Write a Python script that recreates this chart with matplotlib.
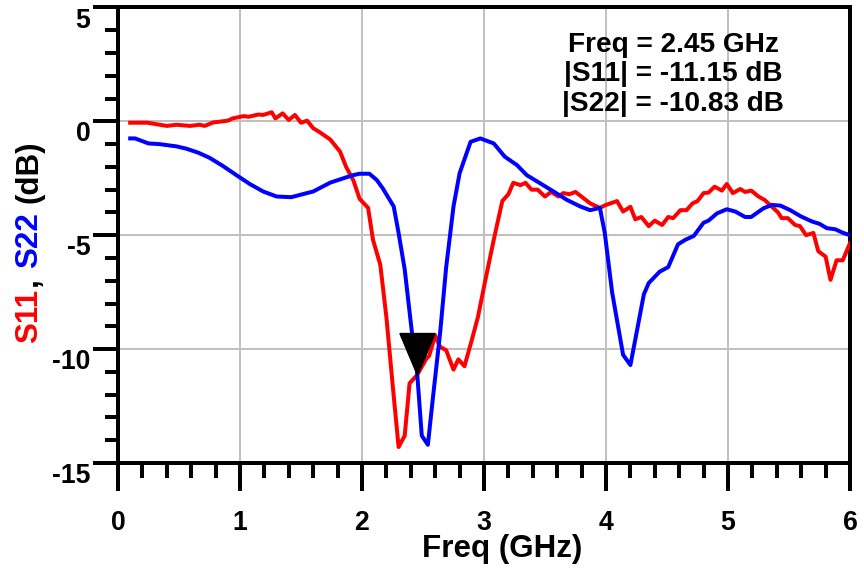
import matplotlib
matplotlib.use("Agg")
import matplotlib.pyplot as plt
import numpy as np
from matplotlib.ticker import MultipleLocator

plt.rcParams['font.family'] = ['Liberation Sans', 'DejaVu Sans']
plt.rcParams['font.weight'] = 'bold'
plt.rcParams['axes.unicode_minus'] = False

# S11 trace (GHz, dB)
s11_freq = [0.1, 0.24, 0.4, 0.48, 0.59, 0.67, 0.71, 0.78, 0.9, 0.94, 1.03, 1.07, 1.15, 1.19,
            1.26, 1.29, 1.35, 1.40, 1.45, 1.50, 1.55, 1.60, 1.66, 1.74, 1.82, 1.87, 1.93, 1.98,
            2.05, 2.09, 2.15, 2.20, 2.25, 2.30, 2.35, 2.39, 2.45, 2.53, 2.55, 2.60, 2.64, 2.69,
            2.75, 2.79, 2.84, 2.90, 2.95, 3.01, 3.08, 3.15, 3.20, 3.24, 3.30, 3.34, 3.39, 3.44,
            3.50, 3.55, 3.61, 3.65, 3.70, 3.75, 3.81, 3.87, 3.95, 4.00, 4.09, 4.14, 4.20, 4.24,
            4.29, 4.35, 4.40, 4.46, 4.51, 4.55, 4.61, 4.66, 4.71, 4.75, 4.80, 4.84, 4.89, 4.95,
            4.99, 5.04, 5.10, 5.14, 5.19, 5.25, 5.30, 5.36, 5.41, 5.44, 5.49, 5.55, 5.59, 5.64,
            5.70, 5.74, 5.80, 5.84, 5.89, 5.94, 6.00]
s11_db = [-0.06, -0.06, -0.2, -0.15, -0.2, -0.15, -0.2, -0.05, 0.03, 0.13, 0.23, 0.2, 0.3, 0.28,
          0.4, 0.13, 0.35, 0.06, 0.28, -0.06, 0.03, -0.3, -0.5, -0.8, -1.33, -2.0, -2.6, -3.4,
          -3.8, -5.2, -6.3, -8.6, -11.5, -14.3, -13.8, -11.5, -11.15, -10.4, -10.3, -9.4, -9.9, -10.05,
          -10.9, -10.45, -10.75, -9.6, -8.6, -7.0, -5.2, -3.5, -3.2, -2.7, -2.8, -2.7, -3.0, -3.0,
          -3.3, -3.1, -3.3, -3.15, -3.2, -3.1, -3.35, -3.6, -3.8, -3.67, -3.5, -3.96, -3.75, -4.3,
          -4.2, -4.6, -4.36, -4.55, -4.2, -4.25, -3.9, -3.9, -3.6, -3.5, -3.15, -3.13, -2.87, -3.04,
          -2.75, -3.15, -2.97, -3.1, -3.04, -3.3, -3.45, -3.75, -4.0, -4.25, -4.25, -4.55, -4.6, -5.0,
          -4.9, -5.7, -5.94, -6.96, -6.1, -6.1, -5.35]

# S22 trace (GHz, dB)
s22_freq = [0.1, 0.14, 0.25, 0.34, 0.48, 0.56, 0.66, 0.75, 0.86, 0.97, 1.08, 1.19, 1.30, 1.42,
            1.52, 1.60, 1.74, 1.87, 1.93, 1.98, 2.06, 2.12, 2.17, 2.26, 2.30, 2.35, 2.41, 2.45,
            2.49, 2.54, 2.58, 2.64, 2.69, 2.75, 2.80, 2.89, 2.97, 3.08, 3.17, 3.27, 3.35, 3.46,
            3.57, 3.68, 3.79, 3.87, 3.95, 3.99, 4.05, 4.14, 4.20, 4.25, 4.31, 4.35, 4.44, 4.51,
            4.59, 4.65, 4.72, 4.80, 4.84, 4.91, 4.99, 5.06, 5.14, 5.19, 5.29, 5.36, 5.43, 5.51,
            5.60, 5.69, 5.75, 5.81, 5.88, 5.94, 6.00]
s22_db = [-0.75, -0.75, -0.97, -1.0, -1.1, -1.2, -1.38, -1.6, -1.96, -2.36, -2.75, -3.08, -3.3, -3.33,
          -3.19, -3.08, -2.69, -2.46, -2.36, -2.3, -2.3, -2.57, -2.94, -3.74, -4.9, -6.5, -9.3, -10.9,
          -13.8, -14.2, -12.2, -9.3, -6.4, -3.74, -2.28, -0.9, -0.75, -0.97, -1.55, -1.92, -2.36, -2.72,
          -3.08, -3.45, -3.74, -3.9, -3.8, -4.9, -7.5, -10.25, -10.7, -9.3, -7.6, -7.1, -6.6, -6.4,
          -5.4, -5.2, -5.03, -4.45, -4.36, -4.04, -3.86, -3.96, -4.2, -4.2, -3.82, -3.67, -3.7, -3.9,
          -4.18, -4.4, -4.5, -4.69, -4.74, -4.89, -5.0]

marker_freq = 2.45
marker_s11 = -11.15
marker_s22 = -10.83

fig, ax = plt.subplots(figsize=(9, 5.99), dpi=96)
fig.subplots_adjust(left=118/864, right=850/864, top=1-7.5/575, bottom=1-463/575)

ax.plot(s11_freq, s11_db, color='#ff0000', linewidth=3, zorder=3)
ax.plot(s22_freq, s22_db, color='#0000ff', linewidth=3, zorder=3)

# marker: triangle with its tip on the S11 point
tri = [(-0.42, 1.0), (0.42, 1.0), (0.0, 0.0), (-0.42, 1.0)]
ax.plot([marker_freq], [marker_s11], linestyle='none', marker=tri, markersize=63,
        color='black', zorder=5)

ax.set_xlim(0, 6)
ax.set_ylim(-15, 5)
ax.xaxis.set_major_locator(MultipleLocator(1))
ax.xaxis.set_minor_locator(MultipleLocator(0.2))
ax.yaxis.set_major_locator(MultipleLocator(5))
ax.yaxis.set_minor_locator(MultipleLocator(1))
ax.grid(True, which='major', color='#c0c0c0', linewidth=1.5, zorder=0)
ax.set_axisbelow(True)

for s in ax.spines.values():
    s.set_linewidth(3)
    s.set_color('black')

ax.tick_params(axis='x', which='major', direction='out', length=21, width=3, pad=14, labelsize=20)
ax.tick_params(axis='x', which='minor', direction='out', length=11, width=3)
ax.tick_params(axis='y', which='major', direction='out', length=18.75, width=3, pad=2, labelsize=20)
ax.tick_params(axis='y', which='minor', direction='out', length=9.75, width=3)
for lab in ax.get_yticklabels():
    lab.set_verticalalignment('top')

# x label
fig.text(502/864, 1-549/575, 'Freq (GHz)', ha='center', va='center', fontsize=23.5, fontweight='bold')

# y label in pieces, coloured per trace
t1 = fig.text(29/864, 1-343/575, 'S11', rotation=90, ha='center', va='bottom',
              fontsize=23.5, fontweight='bold', color='#ff0000')
t2 = ax.annotate(',', xy=(0.5, 1), xycoords=t1, xytext=(0, 2), textcoords='offset points',
                 rotation=90, ha='center', va='bottom', fontsize=23.5, fontweight='bold',
                 color='black', annotation_clip=False)
t3 = ax.annotate('S22', xy=(0.5, 1), xycoords=t2, xytext=(0, 7), textcoords='offset points',
                 rotation=90, ha='center', va='bottom', fontsize=23.5, fontweight='bold',
                 color='#0000ff', annotation_clip=False)
t4 = ax.annotate('(dB)', xy=(0.5, 1), xycoords=t3, xytext=(0, 7), textcoords='offset points',
                 rotation=90, ha='center', va='bottom', fontsize=23.5, fontweight='bold',
                 color='black', annotation_clip=False)

# marker readout
readout = 'Freq = %.2f GHz\n|S11| = %.2f dB\n|S22| = %.2f dB' % (marker_freq, marker_s11, marker_s22)
fig.text(673/864, 1-32/575, readout, ha='center', va='top', multialignment='center',
         fontsize=21, fontweight='bold', linespacing=1.17)

fig.savefig('out.png', dpi=96)
